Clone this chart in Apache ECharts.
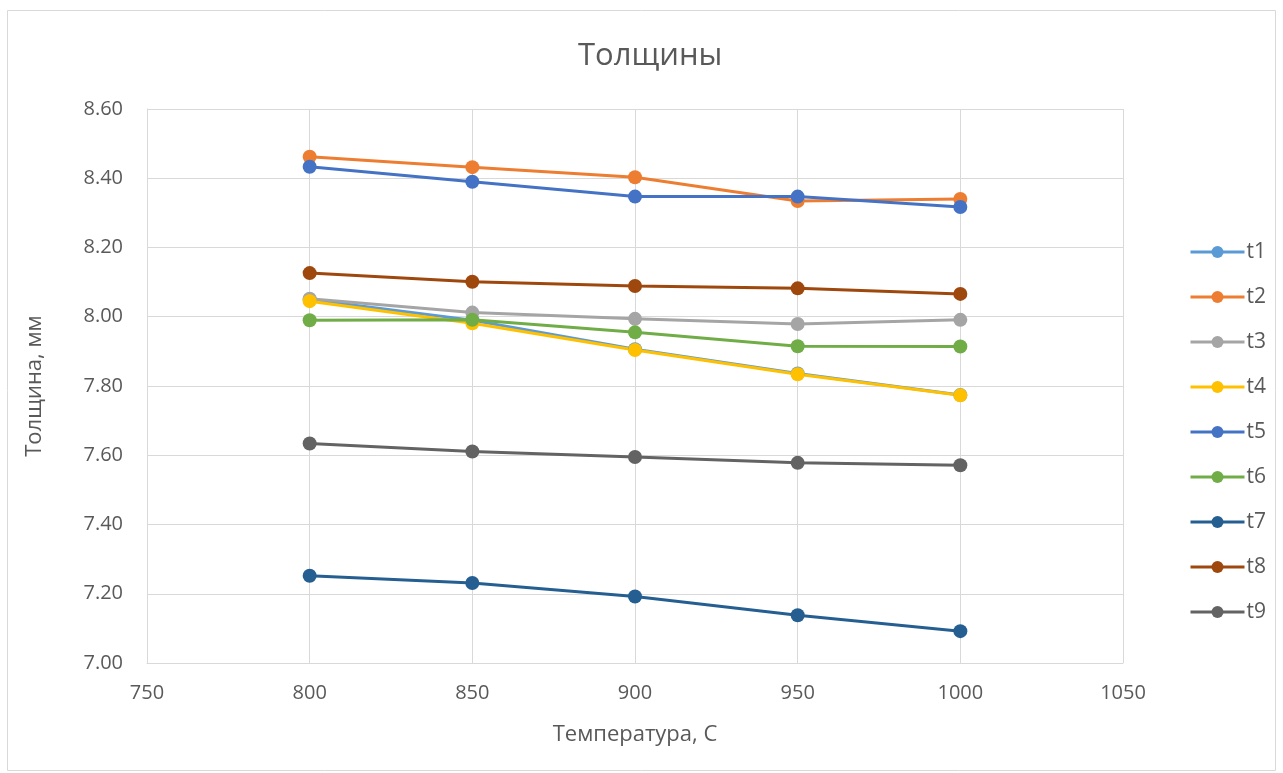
<!DOCTYPE html>
<html><head><meta charset="utf-8">
<script src="https://cdn.jsdelivr.net/npm/echarts@6/dist/echarts.min.js"></script>
<style>html,body{margin:0;padding:0;background:#fff}#c{width:1283px;height:773px}</style>
</head><body><div id="c"></div>
<script>
const temps = [800, 850, 900, 950, 1000];
const t1 = [8.050, 7.990, 7.906, 7.836, 7.774];
const t2 = [8.462, 8.432, 8.403, 8.334, 8.340];
const t3 = [8.052, 8.012, 7.994, 7.979, 7.991];
const t4 = [8.045, 7.981, 7.904, 7.834, 7.773];
const t5 = [8.433, 8.390, 8.347, 8.347, 8.317];
const t6 = [7.990, 7.991, 7.955, 7.915, 7.914];
const t7 = [7.252, 7.231, 7.192, 7.138, 7.092];
const t8 = [8.126, 8.101, 8.089, 8.082, 8.066];
const t9 = [7.634, 7.611, 7.595, 7.578, 7.571];
const seriesNames = ['t1','t2','t3','t4','t5','t6','t7','t8','t9'];
const seriesData = [t1,t2,t3,t4,t5,t6,t7,t8,t9];
const colors = ['#5B9BD5','#ED7D31','#A5A5A5','#FFC000','#4472C4','#70AD47','#255E91','#9E480E','#636363'];
const yTicks = ['7.00','7.20','7.40','7.60','7.80','8.00','8.20','8.40','8.60'];
const xTicks = ['750','800','850','900','950','1000','1050'];

const FONT = '"Open Sans", sans-serif';
const chart = echarts.init(document.getElementById('c'), null, {renderer:'canvas'});
chart.setOption({
  animation: false,
  color: colors,
  textStyle: {fontFamily: FONT},
  title: {text: 'Толщины', left: 573, top: 36,
    textStyle: {fontSize: 31, fontWeight: 'normal', color: '#595959', fontFamily: FONT}},
  graphic: [{type:'rect', shape:{x:7.5,y:10.5,width:1268,height:760},
    style:{fill:'none', stroke:'#D9D9D9', lineWidth:1}, silent:true}],
  legend: {orient:'vertical', right: 12, top: 236, itemGap: 23, itemWidth: 54, itemHeight: 15,
    data: seriesNames,
    lineStyle: {width: 3},
    textStyle: {fontSize: 21, lineHeight: 22, color:'#595959', fontFamily: FONT, padding:[0,0,0,-3]}},
  grid: {left:147, right:160, top:109, bottom:110, containLabel:false},
  xAxis: {type:'value', min:750, max:1050, interval:50,
    name:'Температура, С', nameLocation:'middle', nameGap:61,
    nameTextStyle:{fontSize:22, color:'#595959', fontFamily: FONT},
    axisLine:{show:true, lineStyle:{color:'#D9D9D9'}}, axisTick:{show:false},
    axisLabel:{fontSize:20, color:'#595959', margin:20, formatter: v => xTicks[xTicks.indexOf(String(v))] || String(v)},
    splitLine:{show:true, lineStyle:{color:'#D9D9D9', width:1}}},
  yAxis: {type:'value', min:7.0, max:8.6, interval:0.2,
    name:'Толщина, мм', nameLocation:'middle', nameGap:101, nameRotate:90,
    nameTextStyle:{fontSize:22, color:'#595959', fontFamily: FONT},
    axisLine:{show:true, lineStyle:{color:'#D9D9D9'}}, axisTick:{show:false},
    axisLabel:{fontSize:20, color:'#595959', margin:24, formatter: v => yTicks.find(t => Math.abs(parseFloat(t)-v)<1e-6) || v.toFixed(2)},
    splitLine:{show:true, lineStyle:{color:'#D9D9D9', width:1}}},
  series: seriesNames.map((n,i) => ({
    name: n, type:'line', symbol:'circle', symbolSize:14,
    lineStyle:{width:3, color: colors[i]}, itemStyle:{color: colors[i]},
    data: temps.map((t,j) => [t, seriesData[i][j]])
  }))
});
</script></body></html>
